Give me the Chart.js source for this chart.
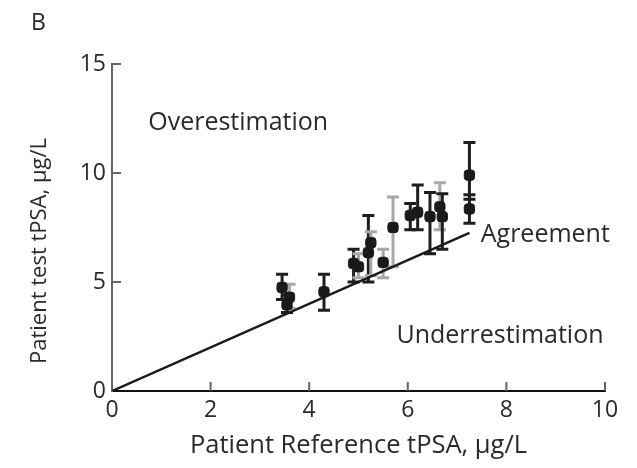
<!DOCTYPE html>
<html>
<head>
<meta charset="utf-8">
<script src="https://cdn.jsdelivr.net/npm/chart.js@4.4.1/dist/chart.umd.min.js"></script>
<style>
  html, body { margin: 0; padding: 0; background: #fff; }
  #wrap { position: relative; width: 637px; height: 468px; }
  #panel { position: absolute; left: 31px; top: 5px; font: 23px "Open Sans", sans-serif; color: #2a2a2a; }
</style>
</head>
<body>
<div id="wrap">
  <canvas id="c" width="637" height="468"></canvas>
  <div id="panel">B</div>
</div>
<script>
// Reference vs. test tPSA per patient (µg/L), with the spread of repeated test measurements
const refTPSA   = [3.45, 3.6, 3.55, 4.3, 4.9, 5.0, 5.2, 5.25, 5.5, 5.7, 6.05, 6.2, 6.45, 6.65, 6.7, 7.25, 7.25];
const testTPSA  = [4.75, 4.3, 3.95, 4.55, 5.85, 5.7, 6.35, 6.8, 5.9, 7.5, 8.05, 8.2, 8.0, 8.45, 8.0, 9.9, 8.35];
const testLow   = [4.2, 3.8, 3.6, 3.7, 5.0, 5.2, 5.0, 5.3, 5.2, 5.7, 7.4, 7.4, 6.3, 7.4, 6.5, 8.8, 7.7];
const testHigh  = [5.35, 4.9, 4.4, 5.35, 6.5, 6.3, 8.05, 7.3, 6.5, 8.9, 8.6, 9.45, 9.1, 9.55, 9.05, 11.4, 9.0];
const barTone   = ['dark','grey','dark','dark','dark','grey','dark','grey','grey','grey','dark','dark','dark','grey','dark','dark','dark'];

// Line of identity (agreement)
const agreementX = [0, 7.25];
const agreementY = [0, 7.25];

// Axis ticks
const xTicks = [0, 2, 4, 6, 8, 10];
const yTicks = [0, 5, 10, 15];

// Axis titles
const xTitle = 'Patient Reference tPSA, µg/L';
const yTitle = 'Patient test tPSA, µg/L';

// Region labels
const regionLabels = [
  { text: 'Overestimation',   x: 2.56, y: 12.3, align: 'center' },
  { text: 'Agreement',        x: 7.48, y: 7.15, align: 'left' },
  { text: 'Underrestimation', x: 7.87, y: 2.55, align: 'center' }
];

const FONT = '"Open Sans", sans-serif';
const TEXT = '#2a2a2a';

const patientPoints = refTPSA.map((x, i) => ({ x, y: testTPSA[i] }));
const agreementPoints = agreementX.map((x, i) => ({ x, y: agreementY[i] }));

// Error bars, inward tick marks, axis titles and region labels, placed through the chart scales
const decorations = {
  id: 'decorations',
  beforeDatasetsDraw(chart) {
    const { ctx, scales: { x, y } } = chart;
    ctx.save();
    ctx.lineCap = 'butt';
    refTPSA.forEach((rx, i) => {
      const px = x.getPixelForValue(rx);
      const lo = y.getPixelForValue(testLow[i]);
      const hi = y.getPixelForValue(testHigh[i]);
      ctx.strokeStyle = barTone[i] === 'dark' ? '#1e1e1e' : '#a8a8a8';
      ctx.lineWidth = 3;
      ctx.beginPath();
      ctx.moveTo(px, lo); ctx.lineTo(px, hi);
      ctx.stroke();
      ctx.beginPath();
      ctx.moveTo(px - 6, hi); ctx.lineTo(px + 6, hi);
      ctx.moveTo(px - 6, lo); ctx.lineTo(px + 6, lo);
      ctx.stroke();
    });
    ctx.restore();
  },
  afterDraw(chart) {
    const { ctx, scales: { x, y }, chartArea } = chart;
    ctx.save();
    // inward ticks on the x axis
    ctx.strokeStyle = '#666';
    ctx.lineWidth = 2;
    xTicks.slice(1).forEach(v => {
      const px = x.getPixelForValue(v);
      ctx.beginPath();
      ctx.moveTo(px, y.bottom); ctx.lineTo(px, y.bottom - 9);
      ctx.stroke();
    });
    // inward ticks on the y axis
    yTicks.slice(1).forEach(v => {
      const py = y.getPixelForValue(v);
      ctx.beginPath();
      ctx.moveTo(x.left, py); ctx.lineTo(x.left + 9, py);
      ctx.stroke();
    });
    ctx.fillStyle = TEXT;
    ctx.textBaseline = 'middle';
    // region labels
    ctx.font = '25px ' + FONT;
    regionLabels.forEach(l => {
      ctx.textAlign = l.align;
      ctx.fillText(l.text, x.getPixelForValue(l.x), y.getPixelForValue(l.y));
    });
    // axis titles
    ctx.textAlign = 'center';
    ctx.font = '25.5px ' + FONT;
    ctx.fillText(xTitle, (chartArea.left + chartArea.right) / 2, chartArea.bottom + 55);
    ctx.save();
    ctx.translate(40, chartArea.bottom - 140);
    ctx.rotate(-Math.PI / 2);
    ctx.font = '22px ' + FONT;
    ctx.fillText(yTitle, 0, 0);
    ctx.restore();
    ctx.restore();
  }
};

new Chart(document.getElementById('c'), {
  type: 'scatter',
  data: {
    datasets: [
      {
        type: 'line',
        data: agreementPoints,
        borderColor: '#1a1a1a',
        borderWidth: 2.5,
        pointRadius: 0,
        fill: false,
        order: 2
      },
      {
        data: patientPoints,
        backgroundColor: '#1a1a1a',
        borderColor: '#1a1a1a',
        pointStyle: 'rectRounded',
        pointRadius: 6,
        order: 1
      }
    ]
  },
  options: {
    responsive: false,
    animation: false,
    layout: { padding: { top: 64, right: 32, left: 0, bottom: 0 } },
    plugins: { legend: { display: false }, tooltip: { enabled: false } },
    scales: {
      x: {
        type: 'linear', min: 0, max: 10,
        afterBuildTicks: s => { s.ticks = xTicks.map(v => ({ value: v })); },
        afterFit: s => { s.height = 77; },
        grid: { display: true, drawOnChartArea: false, drawTicks: false, color: 'transparent' },
        border: { display: true, color: '#111', width: 2 },
        ticks: { color: TEXT, font: { family: FONT, size: 23 }, padding: 6 }
      },
      y: {
        type: 'linear', min: 0, max: 15,
        afterBuildTicks: s => { s.ticks = yTicks.map(v => ({ value: v })); },
        afterFit: s => { s.width = 112; },
        grid: { display: true, drawOnChartArea: false, drawTicks: false, color: 'transparent' },
        border: { display: true, color: '#666', width: 2 },
        ticks: { color: TEXT, font: { family: FONT, size: 23 }, padding: 6 }
      }
    }
  },
  plugins: [decorations]
});
</script>
</body>
</html>
